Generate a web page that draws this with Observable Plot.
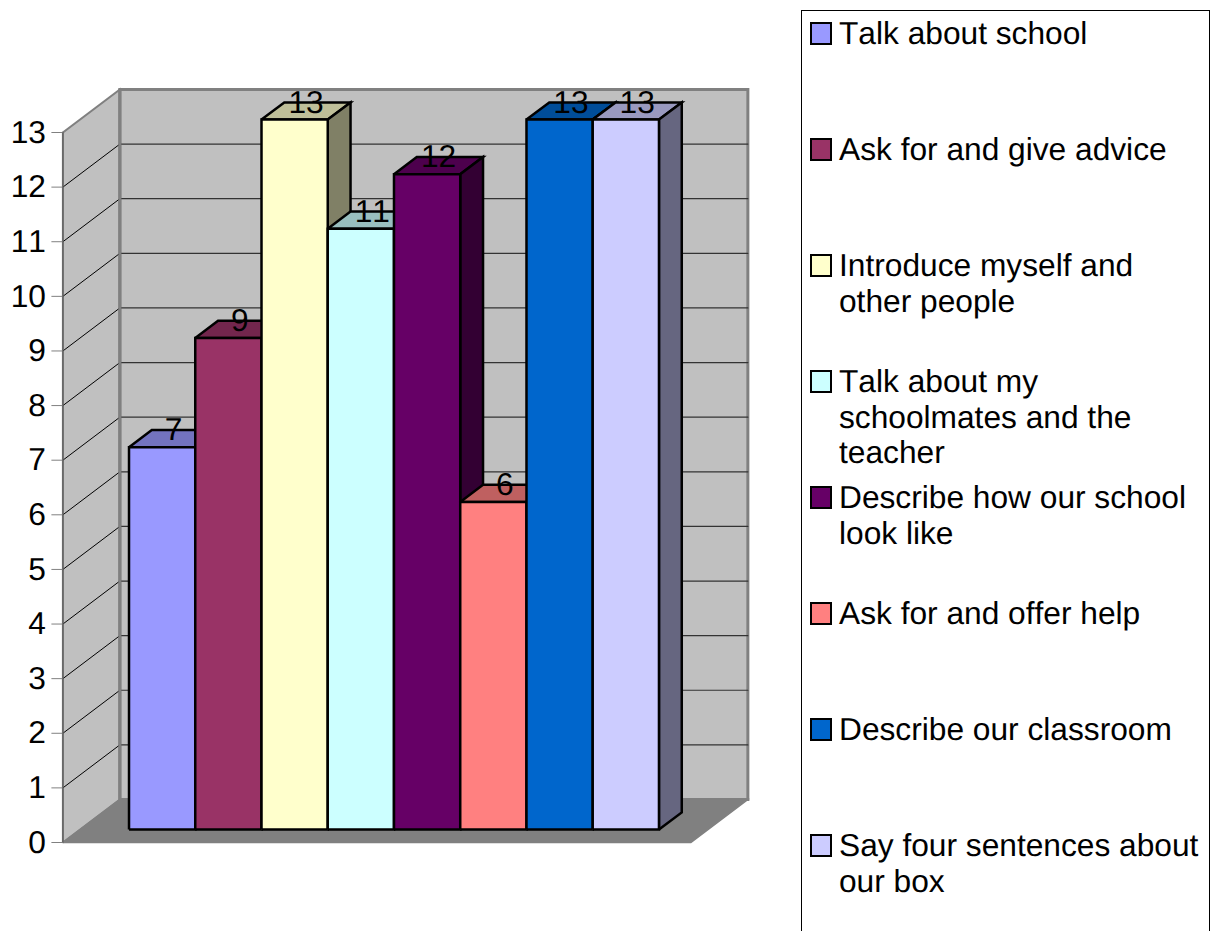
<!DOCTYPE html>
<html>
<head>
<meta charset="utf-8">
<script src="https://cdn.jsdelivr.net/npm/d3@7"></script>
<script src="https://cdn.jsdelivr.net/npm/@observablehq/plot@0.6"></script>
<style>
  html, body { margin: 0; padding: 0; background: #fff; overflow: hidden; }
  #page { position: relative; width: 1215px; height: 931px; overflow: hidden; font-family: "Liberation Sans", Arial, sans-serif; font-kerning: none; text-rendering: geometricPrecision; }
  #chart { position: absolute; left: 0; top: 0; }
  #chart svg { display: block; }
  #legend { position: absolute; left: 801px; top: 10px; width: 409px; height: 960px; border: 1px solid #000; box-sizing: border-box; background: #fff; }
  .row { position: absolute; left: 37px; right: 0; font-size: 31.7px; line-height: 35.5px; white-space: pre; color: #000; }
  .sw { position: absolute; left: -29.5px; top: 6px; width: 22.5px; height: 22.5px; box-sizing: border-box; border: 2.5px solid #000; }
</style>
</head>
<body>
<div id="page"><div id="chart"></div><div id="legend"></div></div>
<script>
const categories = ["Talk about school", "Ask for and give advice", "Introduce myself and\nother people", "Talk about my\nschoolmates and the\nteacher", "Describe how our school\nlook like", "Ask for and offer help", "Describe our classroom", "Say four sentences about\nour box"];
const values = [7, 9, 13, 11, 12, 6, 13, 13];
const frontColors = ["#9999FF", "#993366", "#FFFFCC", "#CCFFFF", "#660066", "#FF8080", "#0066CC", "#CCCCFF"];
const topColors = ["#7373BF", "#73264D", "#BFBF99", "#99BFBF", "#4D004D", "#BF6060", "#004D99", "#9999BF"];
const sideColors = ["#4D4D80", "#4D1A33", "#808066", "#668080", "#330033", "#804040", "#003366", "#666680"];
const yTicks = [0, 1, 2, 3, 4, 5, 6, 7, 8, 9, 10, 11, 12, 13];

// Oblique projection: depth d (0 front .. 1 back) shifts a data point along x and y.
const floorLength = 9.48, depthX = 0.86, depthY = 0.7875;
const barStart = 0.74, barNear = 0.3, barFar = 0.7;
const at = (x, y, d) => ({x: x + d * depthX, y: y + d * depthY});
const poly = (points, o) => Plot.line([...points, points[0]], {
  x: "x", y: "y", curve: "linear", strokeLinejoin: "miter", strokeMiterlimit: 8, strokeLinecap: "butt", ...o
});

const yMax = 13;
const marks = [
  // left wall
  poly([at(0, 0, 0), at(0, 0, 1), at(0, yMax, 1), at(0, yMax, 0)], {fill: "#C0C0C0", stroke: "#808080", strokeWidth: 2}),
  // back wall
  poly([at(0, 0, 1), at(floorLength, 0, 1), at(floorLength, yMax, 1), at(0, yMax, 1)], {fill: "#C0C0C0", stroke: "#808080", strokeWidth: 3}),
  // floor
  poly([at(0, 0, 0), at(floorLength, 0, 0), at(floorLength, 0, 1), at(0, 0, 1)], {fill: "#808080", stroke: "#808080", strokeWidth: 1.5})
];
// gridlines
for (const v of yTicks.slice(1, -1)) {
  marks.push(Plot.line([at(0, v, 0), at(0, v, 1)], {x: "x", y: "y", stroke: "#000", strokeWidth: 1}));
  marks.push(Plot.line([at(0, v, 1), at(floorLength, v, 1)], {x: "x", y: "y", stroke: "#333", strokeWidth: 1.2}));
}
marks.push(Plot.line([at(0, 0, 1), at(0, yMax, 1)], {x: "x", y: "y", stroke: "#808080", strokeWidth: 3}));
marks.push(Plot.line([at(0, 0, 0), at(0, yMax, 0)], {x: "x", y: "y", stroke: "#666", strokeWidth: 1.5}));
marks.push(Plot.axisY({ticks: yTicks, tickSize: 11, tickPadding: 6, stroke: "#808080", fill: "#000", fontSize: 31.7, label: null, tickFormat: d3.format("d")}));

// bars, drawn left to right
values.forEach((v, i) => {
  const x0 = barStart + i, x1 = x0 + 1;
  const style = {stroke: "#000", strokeWidth: 2.5};
  marks.push(poly([at(x0, v, barNear), at(x1, v, barNear), at(x1, v, barFar), at(x0, v, barFar)], {fill: topColors[i], ...style}));
  marks.push(poly([at(x1, 0, barNear), at(x1, 0, barFar), at(x1, v, barFar), at(x1, v, barNear)], {fill: sideColors[i], ...style}));
  marks.push(poly([at(x0, 0, barNear), at(x1, 0, barNear), at(x1, v, barNear), at(x0, v, barNear)], {fill: frontColors[i], ...style}));
});
// value labels
const labels = values.map((v, i) => ({...at(barStart + i + 0.5, v, barFar), v}));
marks.push(Plot.text(labels, {x: d => d.x + 0.5 * (barNear - barFar) * depthX, y: "y", text: d => String(d.v), fontSize: 31.7, fill: "#000", textAnchor: "middle", lineAnchor: "middle"}));

const chart = Plot.plot({
  width: 800,
  height: 931,
  marginLeft: 62.4,
  marginRight: 0,
  marginTop: 0,
  marginBottom: 0,
  style: {fontFamily: "'Liberation Sans', Arial, sans-serif", background: "transparent", overflow: "visible"},
  x: {domain: [0, floorLength], range: [62.4, 690.4], axis: null},
  y: {domain: [0, yMax], range: [842, 132], axis: null},
  marks
});
document.getElementById("chart").appendChild(chart);

const legend = document.getElementById("legend");
categories.forEach((c, i) => {
  const row = document.createElement("div");
  row.className = "row";
  row.style.top = (5 + 116 * i) + "px";
  row.textContent = c;
  const sw = document.createElement("span");
  sw.className = "sw";
  sw.style.background = frontColors[i];
  row.appendChild(sw);
  legend.appendChild(row);
});
</script>
</body>
</html>
